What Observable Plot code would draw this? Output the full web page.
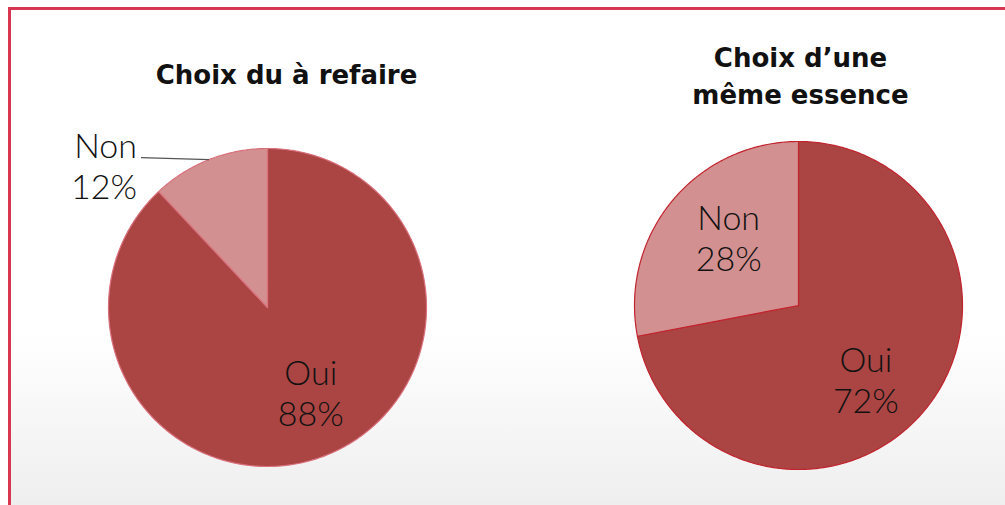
<!DOCTYPE html>
<html><head><meta charset="utf-8">
<script src="https://cdn.jsdelivr.net/npm/d3@7"></script>
<script src="https://cdn.jsdelivr.net/npm/@observablehq/plot@0.6"></script>
<style>
html,body{margin:0;padding:0;width:1005px;height:505px;overflow:hidden;background:#fff;}
#frame{position:absolute;left:8px;top:7px;width:1020px;height:520px;border:3px solid #d8384f;border-right:none;border-bottom:none;
 background:linear-gradient(to bottom,#ffffff 0%,#ffffff 62%,#eeeeee 96%,#eeeeee 100%);}
#chart{position:absolute;left:0;top:0;}
</style></head>
<body><div id="frame"></div><div id="chart"></div>
<script>
// ---- data ----
const titles = [["Choix du à refaire"], ["Choix d’une", "même essence"]];
const categories = ["Oui", "Non"];
const pie1Values = [88, 12];
const pie2Values = [72, 28];
const colors = ["#aa4543", "#d39090"];

// ---- layout ----
const W = 1005, H = 505;
const pies = [
  {values: pie1Values, cx: 267, cy: 307, r: 159, stroke: "#d9707c", titleX: 286, titleY: 75,
   labelR: [0.62, 1.0], outside: [false, true], dx: [7, -2], dy: [-7, -2]},
  {values: pie2Values, cx: 798, cy: 305, r: 164, stroke: "#c2242e", titleX: 800, titleY: 58,
   labelR: [0.62, 0.6], outside: [false, false], dx: [-11, 6], dy: [9, -5]}
];

const slices = [], labels = [], leaders = [], titleRows = [];
pies.forEach((p, pi) => {
  const arcs = d3.pie().sort(null)(p.values);
  arcs.forEach((a, i) => {
    const id = pi + "-" + i;
    const pt = (ang, rr) => ({x: p.cx + rr * Math.sin(ang), y: p.cy - rr * Math.cos(ang)});
    slices.push({id, ...pt(0, 0), fill: colors[i], stroke: p.stroke});
    const n = Math.max(2, Math.ceil((a.endAngle - a.startAngle) / (Math.PI / 360)));
    for (let k = 0; k <= n; k++) {
      const ang = a.startAngle + (a.endAngle - a.startAngle) * k / n;
      slices.push({id, ...pt(ang, p.r), fill: colors[i], stroke: p.stroke});
    }
    slices.push({id, ...pt(0, 0), fill: colors[i], stroke: p.stroke});
    const mid = (a.startAngle + a.endAngle) / 2;
    const text = categories[i] + "\n" + Math.round(a.value / d3.sum(p.values) * 100) + "%";
    if (p.outside[i]) {
      const e = pt(mid, p.r * p.labelR[i]);
      leaders.push({x1: e.x, y1: e.y, x2: e.x - 68, y2: e.y - 2});
      labels.push({x: e.x - 70 + p.dx[i], y: e.y + 8 + p.dy[i], text, anchor: "end"});
    } else {
      const c = pt(mid, p.r * p.labelR[i]);
      labels.push({x: c.x + p.dx[i], y: c.y + p.dy[i], text, anchor: "middle"});
    }
  });
  titles[pi].forEach((t, j) => titleRows.push({x: p.titleX, y: p.titleY + j * 37, text: t}));
});

const labelStyle = {x: "x", y: "y", text: "text", lineHeight: 1.2, fontSize: 34, fontFamily: "Lato", fontWeight: 300, fill: "#111"};
const chart = Plot.plot({
  width: W, height: H, margin: 0,
  x: {domain: [0, W], range: [0, W], axis: null},
  y: {domain: [0, H], range: [0, H], axis: null},
  style: {background: "transparent", overflow: "visible"},
  marks: [
    Plot.line(slices, {x: "x", y: "y", z: "id", fill: "fill", stroke: "stroke", strokeWidth: 1.2, curve: "linear"}),
    Plot.link(leaders, {x1: "x1", y1: "y1", x2: "x2", y2: "y2", stroke: "#555", strokeWidth: 1.2}),
    Plot.text(labels.filter(d => d.anchor === "middle"), {...labelStyle, textAnchor: "middle"}),
    Plot.text(labels.filter(d => d.anchor === "end"), {...labelStyle, textAnchor: "end"}),
    Plot.text(titleRows, {x: "x", y: "y", text: "text", textAnchor: "middle", fontSize: 26, fontWeight: "bold", fontFamily: "DejaVu Sans", fill: "#111"})
  ]
});
document.getElementById("chart").appendChild(chart);
</script></body></html>
